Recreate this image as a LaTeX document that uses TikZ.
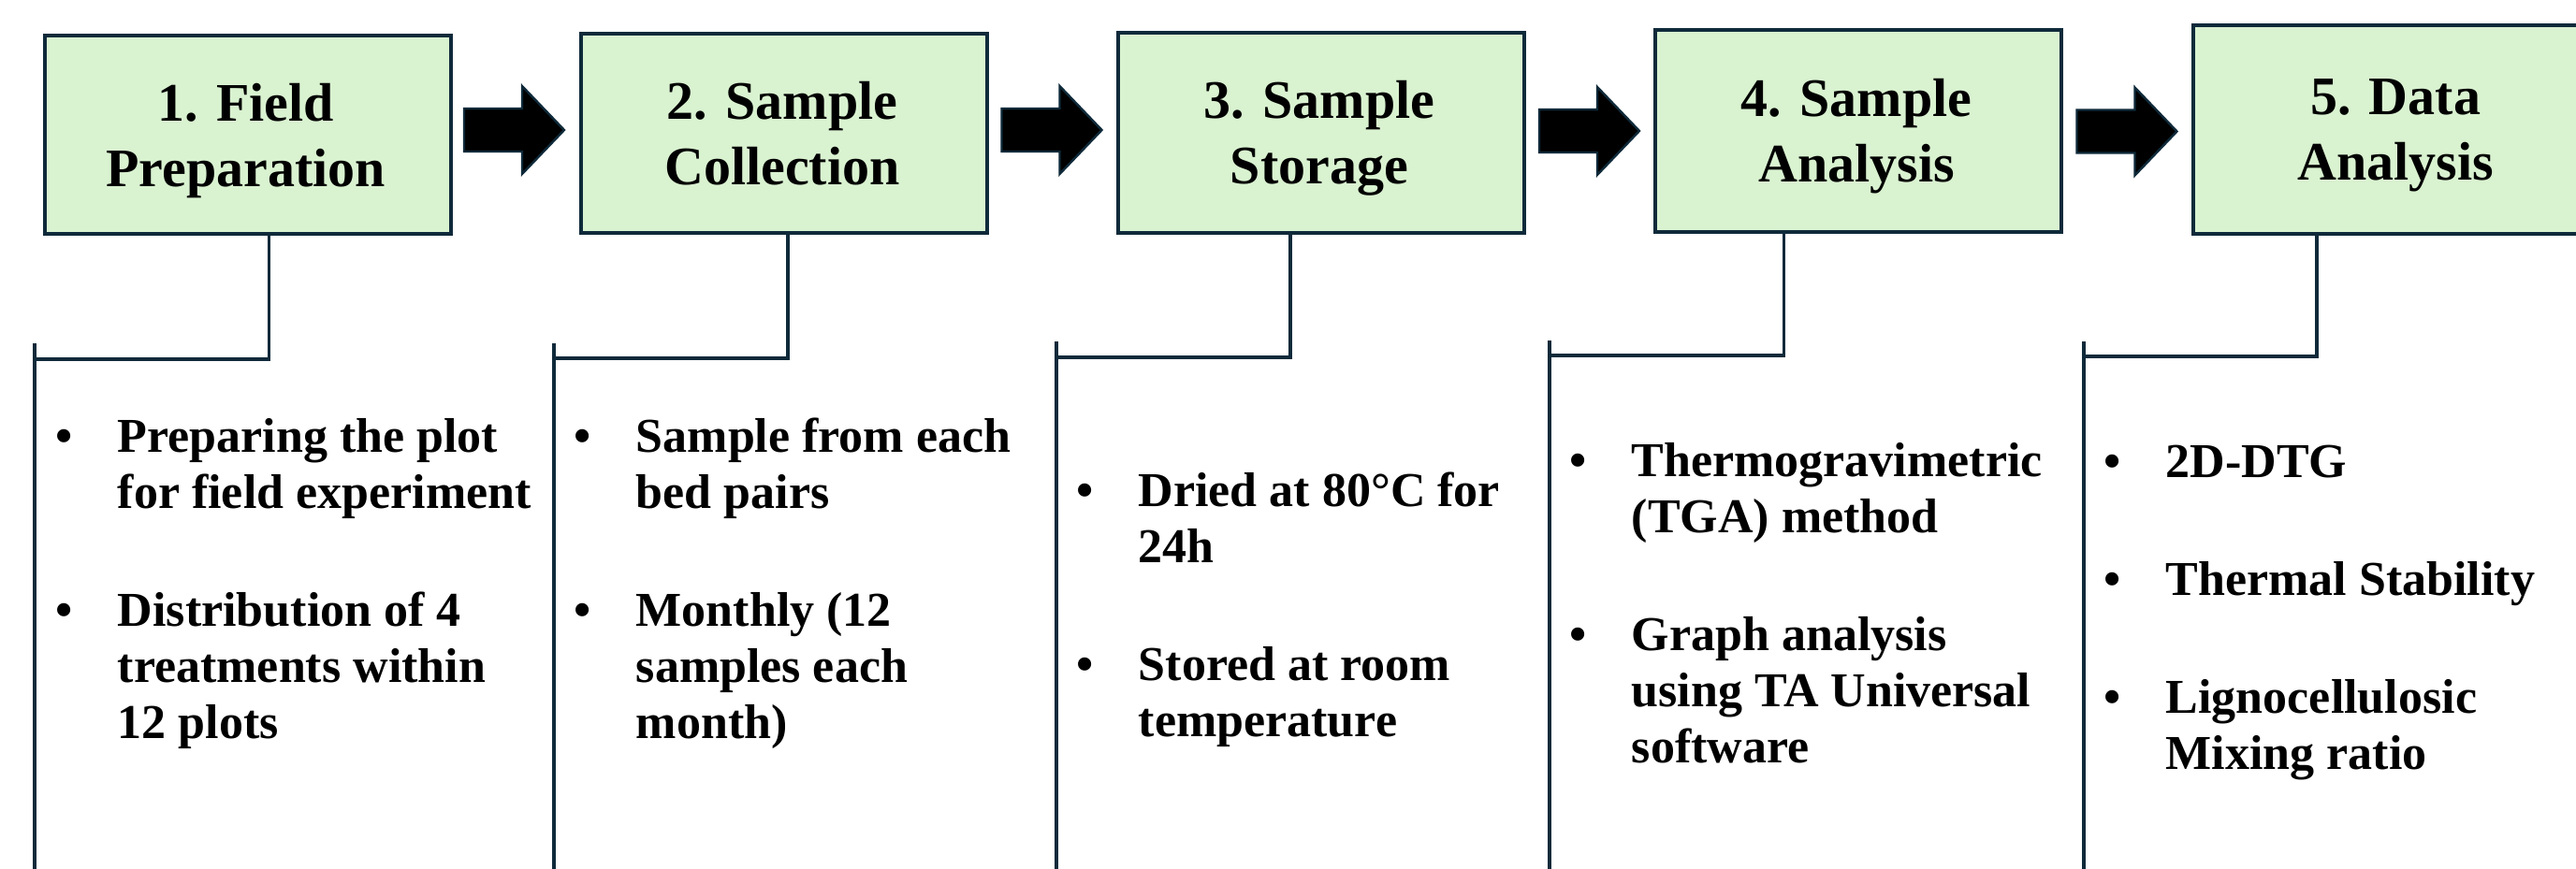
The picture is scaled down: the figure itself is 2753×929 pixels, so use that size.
\documentclass[tikz,border=0pt]{standalone}
\usepackage{fontspec}
\setmainfont{Liberation Serif}
\usetikzlibrary{calc}

\definecolor{boxfill}{HTML}{D9F2D0}
\definecolor{edge}{HTML}{0F2A3A}

\newcommand{\itembullet}{\makebox[7pt]{•}}

\tikzset{
  stage/.style={draw=edge, line width=1pt, fill=boxfill, minimum width=108.5pt,
    inner sep=0pt, anchor=north west},
  title/.style={anchor=base, inner sep=0pt, font=\fontsize{14.5}{17.5}\selectfont\bfseries},
  items/.style={anchor=base west, inner sep=0pt, font=\fontsize{13}{15}\selectfont\bfseries},
  conn/.style={draw=edge, line width=0.9pt},
  blockarrow/.pic={
    \filldraw[fill=black, draw=edge, line width=0.6pt]
      (-53.5,-23) -- (8.5,-23) -- (8.5,-47) -- (53.5,0) -- (8.5,47) -- (8.5,23) -- (-53.5,23) -- cycle;
  }
}

\begin{document}
\begin{tikzpicture}[x=0.25pt, y=-0.25pt]
  \useasboundingbox (0,0) rectangle (2753,929);
  \fill[white] (0,0) rectangle (2753,929);
  \clip (0,0) rectangle (2753,929);

  % stage boxes
  \node[stage, minimum height=53pt]    (b1) at (46,36)   {};
  \node[stage, minimum height=53.25pt] (b2) at (619,34)  {};
  \node[stage, minimum height=53.5pt]  (b3) at (1193,33) {};
  \node[stage, minimum height=54pt]    (b4) at (1767,30) {};
  \node[stage, minimum height=55.75pt] (b5) at (2342,25) {};

  % stage titles
  \node[title] (t1) at (262.5,130) {\begin{tabular}[t]{@{}c@{}}1. Field\\ Preparation\end{tabular}};
  \node[title] (t2) at (836,128)   {\begin{tabular}[t]{@{}c@{}}2. Sample\\ Collection\end{tabular}};
  \node[title] (t3) at (1410,127)  {\begin{tabular}[t]{@{}c@{}}3. Sample\\ Storage\end{tabular}};
  \node[title] (t4) at (1984,125)  {\begin{tabular}[t]{@{}c@{}}4. Sample\\ Analysis\end{tabular}};
  \node[title] (t5) at (2560,123)  {\begin{tabular}[t]{@{}c@{}}5. Data\\ Analysis\end{tabular}};

  % block arrows between stages
  \pic at (549.5,139) {blockarrow};
  \pic at (1124,139)  {blockarrow};
  \pic at (1698.5,140) {blockarrow};
  \pic at (2273,140.5) {blockarrow};

  % junctions on the column rules
  \coordinate (k1) at (37,384);
  \coordinate (k2) at (592,383);
  \coordinate (k3) at (1129,382);
  \coordinate (k4) at (1656,380);
  \coordinate (k5) at (2227,381);

  % column rules
  \coordinate (r1a) at (37,367);   \coordinate (r1b) at (37,940);
  \coordinate (r2a) at (592,367);  \coordinate (r2b) at (592,940);
  \coordinate (r3a) at (1129,365); \coordinate (r3b) at (1129,940);
  \coordinate (r4a) at (1656,364); \coordinate (r4b) at (1656,940);
  \coordinate (r5a) at (2227,365); \coordinate (r5b) at (2227,940);
  \draw[conn] (r1a) -- (r1b);
  \draw[conn] (r2a) -- (r2b);
  \draw[conn] (r3a) -- (r3b);
  \draw[conn] (r4a) -- (r4b);
  \draw[conn] (r5a) -- (r5b);

  % elbows from each stage down to its column
  \draw[conn] ($(b1.south west)!0.551!(b1.south east)$) |- (k1);
  \draw[conn] ($(b2.south west)!0.509!(b2.south east)$) |- (k2);
  \draw[conn] ($(b3.south west)!0.424!(b3.south east)$) |- (k3);
  \draw[conn] ($(b4.south west)!0.318!(b4.south east)$) |- (k4);
  \draw[conn] ($(b5.south west)!0.306!(b5.south east)$) |- (k5);

  % bullet lists
  \node[items] (i1) at (54,484) {\begin{tabular}[t]{@{}l@{\hspace{10.75pt}}l@{}}
    \itembullet & Preparing the plot\\
                & for field experiment\\
                & \\[1.5pt]
    \itembullet & Distribution of 4\\
                & treatments within\\
                & 12 plots
  \end{tabular}};

  \node[items] (i2) at (608,484) {\begin{tabular}[t]{@{}l@{\hspace{10.75pt}}l@{}}
    \itembullet & Sample from each\\
                & bed pairs\\
                & \\[1.5pt]
    \itembullet & Monthly (12\\
                & samples each\\
                & month)
  \end{tabular}};

  \node[items] (i3) at (1145,542) {\begin{tabular}[t]{@{}l@{\hspace{10.75pt}}l@{}}
    \itembullet & Dried at 80°C for\\
                & 24h\\
                & \\[1.5pt]
    \itembullet & Stored at room\\
                & temperature
  \end{tabular}};

  \node[items] (i4) at (1672,510) {\begin{tabular}[t]{@{}l@{\hspace{10.75pt}}l@{}}
    \itembullet & Thermogravimetric\\
                & (TGA) method\\
                & \\[1.5pt]
    \itembullet & Graph analysis\\
                & using TA Universal\\
                & software
  \end{tabular}};

  \node[items] (i5) at (2243,511) {\begin{tabular}[t]{@{}l@{\hspace{10.75pt}}l@{}}
    \itembullet & 2D-DTG\\
                & \\[1.5pt]
    \itembullet & Thermal Stability\\
                & \\[1.5pt]
    \itembullet & Lignocellulosic\\
                & Mixing ratio
  \end{tabular}};
\end{tikzpicture}
\end{document}
